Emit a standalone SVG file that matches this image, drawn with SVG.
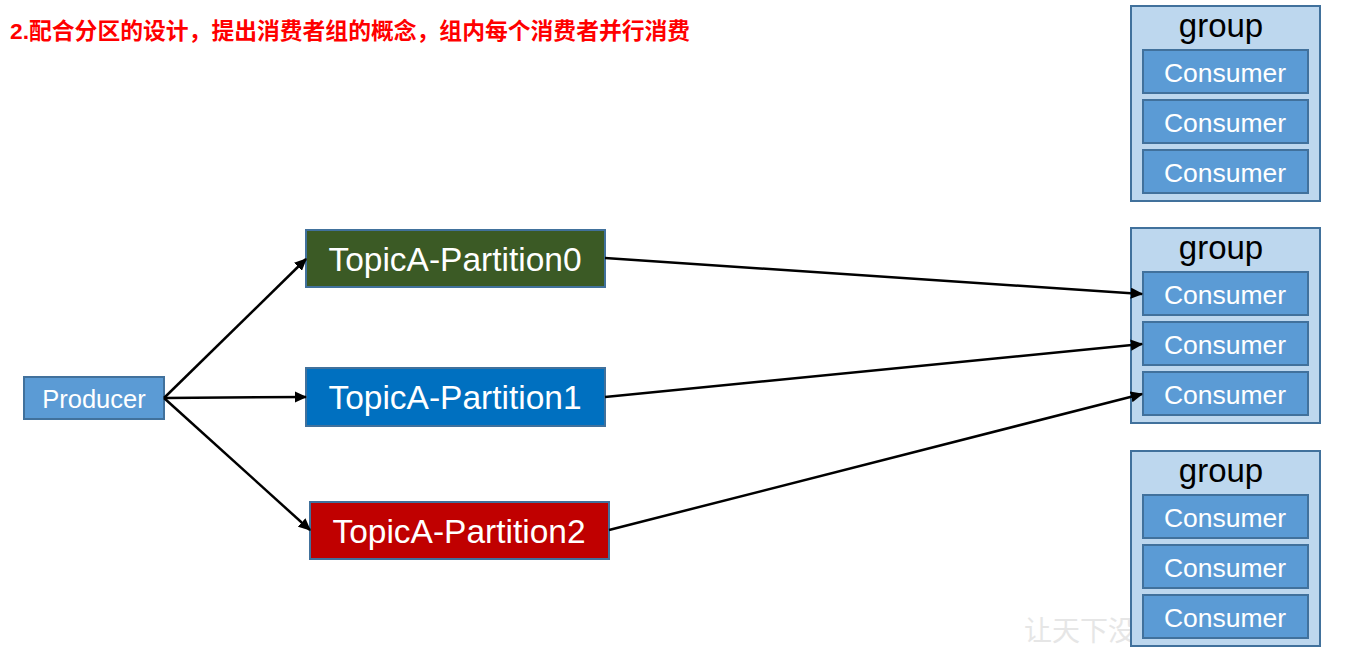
<svg xmlns="http://www.w3.org/2000/svg" width="1345" height="653" viewBox="0 0 1345 653">
<style>
.grp{fill:#BDD7EE;stroke:#41719C;stroke-width:2}
.con{fill:#5B9BD5;stroke:#41719C;stroke-width:2}
.ct{font-family:"Liberation Sans",Arial,sans-serif;font-size:26.5px;fill:#fff;text-anchor:middle}
.gt{font-family:"Liberation Sans",Arial,sans-serif;font-size:33px;fill:#000;text-anchor:middle}
.pt{font-family:"Liberation Sans",Arial,sans-serif;font-size:33.5px;fill:#fff;text-anchor:middle}
.edge{stroke:#000;stroke-width:2.5;fill:none;marker-end:url(#ah)}
</style>
<defs>
<marker id="ah" viewBox="0 0 10 10" refX="9" refY="5" markerWidth="5" markerHeight="4.5" orient="auto" markerUnits="strokeWidth" preserveAspectRatio="none">
<path d="M0,0 L10,5 L0,10 z" fill="#000"/>
</marker>
</defs>
<rect width="1345" height="653" fill="#fff"/>
<text x="10" y="39" font-family="'Liberation Sans','Noto Sans CJK SC',sans-serif" font-size="22.8" font-weight="bold" fill="#FF0000">2.配合分区的设计，提出消费者组的概念，组内每个消费者并行消费</text>
<text x="1024" y="641" font-family="'Noto Sans CJK SC',sans-serif" font-size="28" fill="#E6E6E6">让天下没</text>
<g id="producer">
<rect x="24" y="377" width="140" height="42" fill="#5B9BD5" stroke="#41719C" stroke-width="2"/>
<text x="94" y="408" font-family="'Liberation Sans',Arial,sans-serif" font-size="25.5" fill="#fff" text-anchor="middle">Producer</text>
</g>
<g id="partition0">
<rect x="306" y="230" width="299" height="57" fill="#3B5A25" stroke="#41719C" stroke-width="2"/>
<text class="pt" x="455" y="271">TopicA-Partition0</text>
</g>
<g id="partition1">
<rect x="306" y="368" width="299" height="58" fill="#0070C0" stroke="#41719C" stroke-width="2"/>
<text class="pt" x="455" y="409">TopicA-Partition1</text>
</g>
<g id="partition2">
<rect x="310" y="502" width="299" height="57" fill="#C00000" stroke="#41719C" stroke-width="2"/>
<text class="pt" x="459" y="543">TopicA-Partition2</text>
</g>
<g id="group1">
<rect class="grp" x="1131" y="6" width="189" height="195"/>
<text class="gt" x="1221" y="37">group</text>
<rect class="con" x="1143" y="50" width="165" height="43"/>
<text class="ct" x="1225" y="82">Consumer</text>
<rect class="con" x="1143" y="100" width="165" height="43"/>
<text class="ct" x="1225" y="132">Consumer</text>
<rect class="con" x="1143" y="150" width="165" height="43"/>
<text class="ct" x="1225" y="182">Consumer</text>
</g>
<g id="group2">
<rect class="grp" x="1131" y="228" width="189" height="195"/>
<text class="gt" x="1221" y="259">group</text>
<rect class="con" x="1143" y="272" width="165" height="43"/>
<text class="ct" x="1225" y="304">Consumer</text>
<rect class="con" x="1143" y="322" width="165" height="43"/>
<text class="ct" x="1225" y="354">Consumer</text>
<rect class="con" x="1143" y="372" width="165" height="43"/>
<text class="ct" x="1225" y="404">Consumer</text>
</g>
<g id="group3">
<rect class="grp" x="1131" y="451" width="189" height="195"/>
<text class="gt" x="1221" y="482">group</text>
<rect class="con" x="1143" y="495" width="165" height="43"/>
<text class="ct" x="1225" y="527">Consumer</text>
<rect class="con" x="1143" y="545" width="165" height="43"/>
<text class="ct" x="1225" y="577">Consumer</text>
<rect class="con" x="1143" y="595" width="165" height="43"/>
<text class="ct" x="1225" y="627">Consumer</text>
</g>
<g id="connectors">
<line class="edge" x1="164" y1="398" x2="306" y2="259"/>
<line class="edge" x1="164" y1="398" x2="306" y2="397"/>
<line class="edge" x1="164" y1="398" x2="310" y2="530"/>
<line class="edge" x1="605" y1="258" x2="1142" y2="294"/>
<line class="edge" x1="605" y1="397" x2="1142" y2="344"/>
<line class="edge" x1="609" y1="530" x2="1142" y2="394"/>
</g>
</svg>
